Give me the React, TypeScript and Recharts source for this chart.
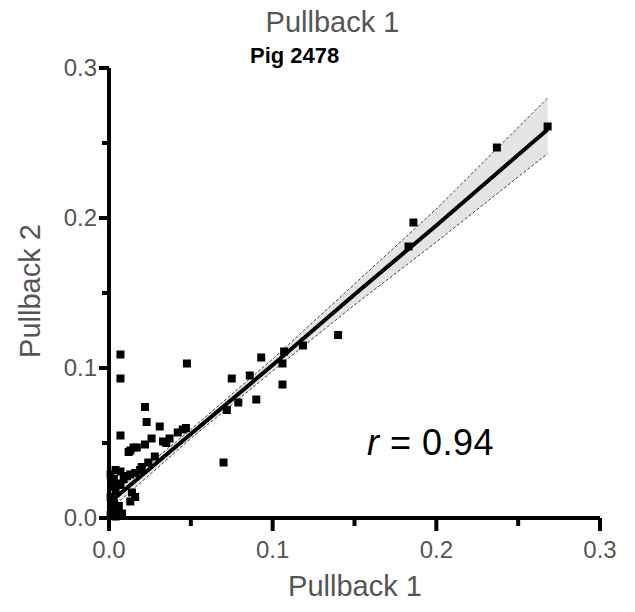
import { ComposedChart, XAxis, YAxis, Scatter, Line, Area } from 'recharts'

// regression fit and 95% band
const fitX = [0, 0.05, 0.1, 0.15, 0.2, 0.268]
const fitY = [0.01, 0.056, 0.102, 0.149, 0.195, 0.259]
const bandLo = [0.005, 0.053, 0.098, 0.142, 0.184, 0.243]
const bandHi = [0.014, 0.059, 0.106, 0.156, 0.206, 0.28]

// pullback 1 vs pullback 2 measurements
const pb1 = [
  0.268, 0.237, 0.186, 0.183, 0.14, 0.1185, 0.107, 0.106, 0.093, 0.106, 0.086, 0.075,
  0.09, 0.079, 0.072, 0.07, 0.0476, 0.007, 0.007, 0.022, 0.023, 0.031, 0.007, 0.026,
  0.033, 0.012, 0.015, 0.017, 0.022, 0.013, 0.035, 0.037, 0.042, 0.045, 0.047, 0.028,
  0.024, 0.019, 0.02, 0.016, 0.013, 0.007, 0.004, 0.005, 0.007, 0.014, 0.016, 0.013,
  0.001, 0.002, 0.003, 0.001, 0.004, 0.002, 0.003, 0.005, 0.006, 0.008, 0.004, 0.001,
  0.009, 0.011,
]
const pb2 = [
  0.261, 0.247, 0.197, 0.181, 0.122, 0.115, 0.111, 0.103, 0.107, 0.089, 0.095, 0.093,
  0.079, 0.077, 0.072, 0.037, 0.103, 0.109, 0.093, 0.074, 0.064, 0.061, 0.055, 0.053,
  0.051, 0.044, 0.047, 0.047, 0.049, 0.045, 0.05, 0.053, 0.057, 0.059, 0.06, 0.041,
  0.037, 0.032, 0.034, 0.03, 0.029, 0.031, 0.032, 0.023, 0.022, 0.017, 0.014, 0.011,
  0.002, 0.006, 0.01, 0.014, 0.018, 0.021, 0.026, 0.004, 0.008, 0.003, 0.001, 0.029,
  0.026, 0.028,
]

const ticks = [0, 0.05, 0.1, 0.15, 0.2, 0.25, 0.3]

const font = "'Liberation Sans', Arial, sans-serif"
const grey = '#555555'

const isMajor = (v: number) => Math.round(v * 100) % 10 === 0

// bottom axis tick: mark below the axis line, label only on major ticks
function XTick({ x, y, payload }: any) {
  const major = isMajor(payload.value)
  return (
    <g>
      <path d={`M${x},${y} v${major ? 13 : 8}`} stroke="#000" strokeWidth={4} fill="none" />
      {major && (
        <text x={x} y={y + 40} textAnchor="middle" fill={grey} stroke="none" fontSize={24} fontFamily={font}>
          {payload.value.toFixed(1)}
        </text>
      )}
    </g>
  )
}

function YTick({ x, y, payload }: any) {
  const major = isMajor(payload.value)
  return (
    <g>
      <path d={`M${x},${y} h${major ? -10 : -7}`} stroke="#000" strokeWidth={4} fill="none" />
      {major && (
        <text x={x - 12} y={y + 8} textAnchor="end" fill={grey} stroke="none" fontSize={24} fontFamily={font}>
          {payload.value.toFixed(1)}
        </text>
      )}
    </g>
  )
}

const Dot = ({ cx, cy }: any) => <rect x={cx - 4} y={cy - 4} width={8} height={8} fill="#000" />

export default function App() {
  const fitData = fitX.map((x, i) => ({ x, fit: fitY[i], lo: bandLo[i], hi: bandHi[i], band: [bandLo[i], bandHi[i]] }))
  const points = pb1.map((x, i) => ({ x, y: pb2[i] }))

  return (
    <div style={{ position: 'absolute', left: 0, top: 0, width: 635, height: 612, background: '#fff', fontFamily: font }}>
      <ComposedChart width={635} height={612} data={fitData} margin={{ top: 68, right: 35, bottom: 0, left: 0 }}>
        <XAxis
          type="number"
          dataKey="x"
          domain={[0, 0.3]}
          ticks={ticks}
          interval={0}
          height={94}
          tickSize={0}
          tickMargin={0}
          tickLine={false}
          tick={<XTick />}
          axisLine={{ stroke: '#000', strokeWidth: 4 }}
        />
        <YAxis
          type="number"
          domain={[0, 0.3]}
          ticks={ticks}
          interval={0}
          width={109}
          tickSize={0}
          tickMargin={0}
          tickLine={false}
          tick={<YTick />}
          axisLine={{ stroke: '#000', strokeWidth: 4 }}
        />
        <Area dataKey="band" fill="#e4e4e4" fillOpacity={1} stroke="none" isAnimationActive={false} />
        <Line dataKey="lo" stroke="#444" strokeWidth={1} strokeDasharray="3 2" dot={false} isAnimationActive={false} />
        <Line dataKey="hi" stroke="#444" strokeWidth={1} strokeDasharray="3 2" dot={false} isAnimationActive={false} />
        <Line dataKey="fit" stroke="#000" strokeWidth={4} dot={false} isAnimationActive={false} />
        <Scatter data={points} dataKey="y" shape={<Dot />} isAnimationActive={false} />
      </ComposedChart>

      <div style={{ position: 'absolute', left: 0, width: 665, top: 6, textAlign: 'center', fontSize: 29, color: grey }}>
        Pullback 1
      </div>
      <div style={{ position: 'absolute', left: 250, top: 43, fontSize: 22, fontWeight: 'bold', color: '#000' }}>
        Pig 2478
      </div>
      <div style={{ position: 'absolute', left: 367, top: 422, fontSize: 36, letterSpacing: 0.5, color: '#000' }}>
        <i>r</i> = 0.94
      </div>
      <div style={{ position: 'absolute', left: 0, width: 710, top: 570, textAlign: 'center', fontSize: 29, color: grey }}>
        Pullback 1
      </div>
      <div
        style={{
          position: 'absolute',
          left: 30,
          top: 291,
          fontSize: 29,
          color: grey,
          whiteSpace: 'nowrap',
          transform: 'translate(-50%, -50%) rotate(-90deg)',
        }}
      >
        Pullback 2
      </div>
    </div>
  )
}
